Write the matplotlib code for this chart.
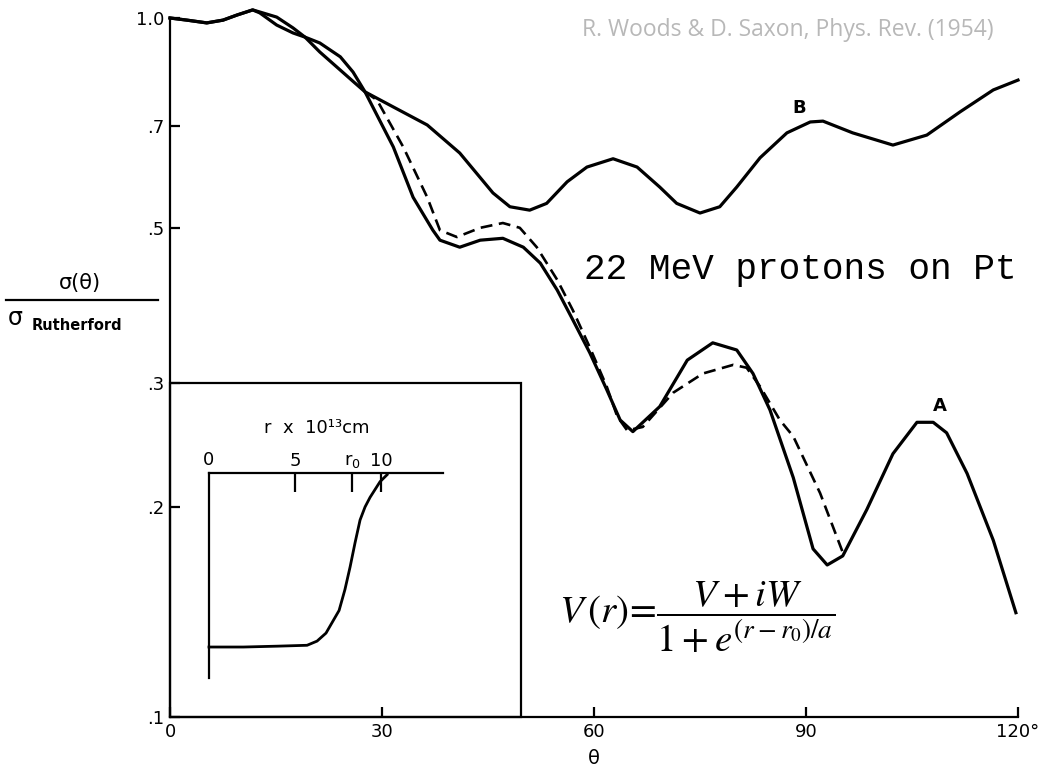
import matplotlib
matplotlib.use('Agg')
import matplotlib.pyplot as plt
from matplotlib.lines import Line2D
from matplotlib.patches import Rectangle

# curve B (solid, upper)
theta_B = [0, 2.4, 5.2, 7.5, 9.5, 11.7, 12.7, 15.1, 17.4, 19.1, 21.2, 23.6, 26.0, 27.6,
           31.6, 36.4, 41.0, 45.7, 48.1, 50.9, 53.3, 56.2, 59.0, 62.7, 66.1, 69.3, 71.7,
           75.0, 77.8, 80.2, 83.5, 87.3, 90.6, 92.4, 96.6, 102.3, 107.1, 111.8, 116.5, 120]
sig_B = [1.0, 0.993, 0.984, 0.993, 1.010, 1.027, 1.020, 1.003, 0.968, 0.939, 0.894, 0.851,
         0.810, 0.784, 0.746, 0.703, 0.641, 0.562, 0.537, 0.531, 0.543, 0.583, 0.612, 0.629,
         0.612, 0.573, 0.543, 0.526, 0.537, 0.573, 0.631, 0.685, 0.710, 0.712, 0.685, 0.658,
         0.680, 0.734, 0.789, 0.815]

# curve A (solid, lower)
theta_A = [0, 2.4, 5.2, 7.5, 9.5, 11.7, 12.7, 15.1, 17.4, 19.1, 21.2, 24.1, 25.9, 27.6,
           31.6, 34.4, 37.2, 38.2, 41.0, 43.9, 47.1, 50.0, 52.4, 54.8, 57.0, 59.4, 61.8,
           63.7, 65.5, 69.3, 73.2, 76.8, 80.2, 82.5, 84.9, 88.2, 91.0, 93.0, 95.2, 98.6,
           102.3, 105.7, 108.0, 109.9, 112.8, 116.5, 119.7]
sig_A = [1.0, 0.993, 0.984, 0.993, 1.010, 1.027, 1.017, 0.977, 0.952, 0.939, 0.921, 0.880,
         0.837, 0.784, 0.654, 0.554, 0.497, 0.481, 0.470, 0.481, 0.484, 0.470, 0.446, 0.408,
         0.370, 0.332, 0.294, 0.266, 0.256, 0.278, 0.324, 0.343, 0.335, 0.310, 0.275, 0.220,
         0.174, 0.165, 0.170, 0.198, 0.238, 0.264, 0.264, 0.255, 0.223, 0.179, 0.141]

# dashed curve
theta_D = [27.6, 29.3, 33.0, 36.4, 38.2, 40.6, 43.9, 47.1, 49.5, 51.9, 54.8, 57.0, 59.4,
           61.8, 63.3, 64.7, 66.9, 71.2, 75.4, 79.7, 81.6, 83.5, 86.3, 88.2, 92.0, 95.2]
sig_D = [0.784, 0.763, 0.654, 0.554, 0.497, 0.486, 0.501, 0.509, 0.501, 0.470, 0.422, 0.382,
         0.338, 0.297, 0.269, 0.257, 0.260, 0.291, 0.310, 0.319, 0.316, 0.297, 0.266, 0.252,
         0.209, 0.172]

yticks = [0.1, 0.2, 0.3, 0.5, 0.7, 1.0]
ylabels = ['.1', '.2', '.3', '.5', '.7', '1.0']
xticks = [0, 30, 60, 90, 120]
xlabels = ['0', '30', '60', '90', '120°']

# inset: potential shape
r_in = [0, 2, 4, 5.7, 6.28, 6.8, 7.56, 7.9, 8.2, 8.49, 8.78, 9.07, 9.36, 9.94, 10.35]
v_in = [-1.0, -1.0, -0.995, -0.99, -0.966, -0.92, -0.79, -0.67, -0.54, -0.40, -0.27,
        -0.195, -0.14, -0.05, -0.01]
r_ticks = [5, 8.33, 10]
r_labels = ['5', 'r$_0$', '10']

W, H = 1052, 774
fig = plt.figure(figsize=(W / 100, H / 100), dpi=100)

ax = fig.add_axes([170 / W, 1 - 717 / H, 848 / W, 699 / H])
ax.set_yscale('log')
ax.set_xlim(0, 120)
ax.set_ylim(0.1, 1.0)

lw = 2.3
ax.plot(theta_B, sig_B, color='black', lw=lw, clip_on=False, solid_joinstyle='round')
ax.plot(theta_A, sig_A, color='black', lw=lw, clip_on=False, solid_joinstyle='round')
ax.plot(theta_D, sig_D, color='black', lw=1.9, dashes=(4.5, 2.5), clip_on=False)

for s in ['top', 'right']:
    ax.spines[s].set_visible(False)
for s in ['left', 'bottom']:
    ax.spines[s].set_linewidth(1.6)

ax.set_yticks(yticks)
ax.set_yticklabels(ylabels)
ax.yaxis.set_minor_locator(matplotlib.ticker.NullLocator())
ax.set_xticks(xticks)
ax.set_xticklabels(xlabels)
ax.tick_params(direction='in', length=7, width=1.6, labelsize=13, pad=4)
ax.set_xlabel('θ', fontsize=14, labelpad=6)

# inset frame
ax.add_patch(Rectangle((0, 0.1), 49.7, 0.2, fill=False, lw=1.6, ec='black', clip_on=False))

ax.text(89.1, 0.743, 'B', fontsize=13, fontweight='bold', ha='center', va='center')
ax.text(109.0, 0.279, 'A', fontsize=13, fontweight='bold', ha='center', va='center')

# y label as a fraction
fig.text(80 / W, 1 - 283 / H, 'σ(θ)', fontsize=15, ha='center', va='center')
fig.add_artist(Line2D([6 / W, 158 / W], [1 - 300 / H] * 2, color='black', lw=1.6))
fig.text(8 / W, 1 - 318 / H, 'σ', fontsize=17, ha='left', va='center')
fig.text(32 / W, 1 - 325 / H, 'Rutherford', fontsize=10.5, fontweight='bold',
         ha='left', va='center')

fig.text(788 / W, 1 - 30 / H, 'R. Woods & D. Saxon, Phys. Rev. (1954)', fontsize=16.5,
         family='Open Sans', color='#b8b8b8', ha='center', va='center')
fig.text(800 / W, 1 - 270 / H, '22 MeV protons on Pt', fontsize=26,
         family='Liberation Mono', color='black', ha='center', va='center')
fig.text(697 / W, 1 - 617 / H, r'$V\,(r)\!=\!\dfrac{V+iW}{1+e^{(r-r_0)/a}}$',
         fontsize=28, math_fontfamily='stix', ha='center', va='center')

# inset axes
axi = fig.add_axes([209 / W, 1 - 678 / H, 234 / W, 205 / H])
axi.set_xlim(0, 13.6)
axi.set_ylim(-1.178, 0)
axi.patch.set_visible(False)
for s in ['bottom', 'right']:
    axi.spines[s].set_visible(False)
for s in ['top', 'left']:
    axi.spines[s].set_linewidth(1.6)
axi.plot(r_in, v_in, color='black', lw=2.0, clip_on=False, solid_joinstyle='round')
axi.xaxis.set_ticks_position('top')
axi.set_xticks(r_ticks)
axi.set_xticklabels(r_labels)
axi.set_yticks([])
axi.tick_params(axis='x', direction='in', length=14, width=1.6, labelsize=13, pad=2)
axi.text(0, 1.02, '0', transform=axi.get_xaxis_transform(), fontsize=13,
         ha='center', va='bottom')
axi.text(0.46, 1.22, 'r  x  10¹³cm', transform=axi.transAxes, fontsize=13,
         ha='center', va='center')

fig.savefig('out.png', dpi=100)
